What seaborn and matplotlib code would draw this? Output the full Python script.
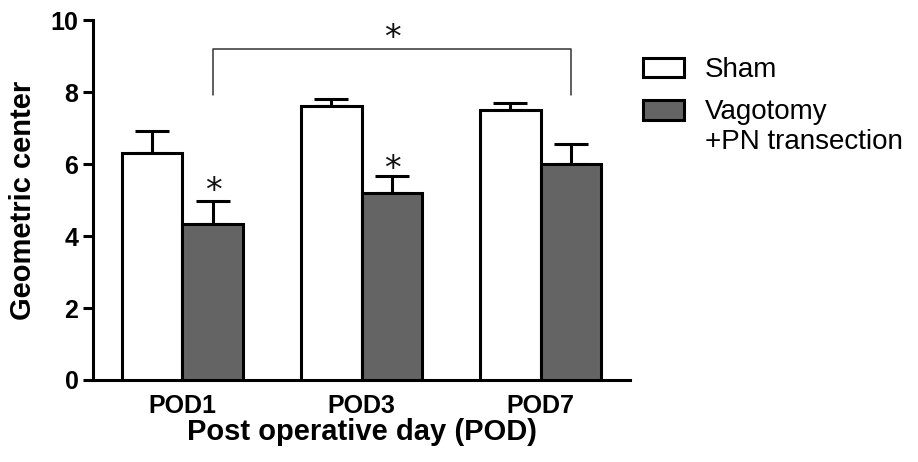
import matplotlib
matplotlib.use("Agg")
import matplotlib.pyplot as plt
from matplotlib.patches import Rectangle
from matplotlib.legend_handler import HandlerPatch
import seaborn as sns
import pandas as pd
import numpy as np

# ---- data ----
days = ["POD1", "POD3", "POD7"]
groups = ["Sham", "Vagotomy\n+PN transection"]
sham_mean = [6.30, 7.62, 7.50]
sham_sem = [0.62, 0.20, 0.19]
vago_mean = [4.34, 5.19, 5.99]
vago_sem = [0.63, 0.49, 0.57]
bracket_low = 7.92
bracket_high = 9.2

df = pd.DataFrame({
    "day": days * 2,
    "group": [groups[0]] * 3 + [groups[1]] * 3,
    "value": sham_mean + vago_mean,
    "sem": sham_sem + vago_sem,
})

sns.set_style("ticks")
plt.rcParams["font.family"] = ["Liberation Sans", "DejaVu Sans"]
plt.rcParams["text.color"] = "black"
plt.rcParams["axes.labelcolor"] = "black"

fig = plt.figure(figsize=(9.18, 4.62), dpi=100)
ax = fig.add_axes([0.1013, 0.1775, 0.585, 0.779])

lw = 2.2
fill = "#646464"
sns.barplot(data=df, x="day", y="value", hue="group", order=days, hue_order=groups,
            palette={groups[0]: "white", groups[1]: fill},
            edgecolor="black", linewidth=lw, width=0.68, gap=0,
            errorbar=None, ax=ax, zorder=3, saturation=1)

# error bars (upper SEM only) placed at the centres of seaborn's bars
bars = [p for p in ax.patches if p.get_height() > 0]
bars = sorted(bars, key=lambda p: p.get_x())
centers = np.array([p.get_x() + p.get_width() / 2 for p in bars])
heights = np.array([p.get_height() for p in bars])
sem_lookup = {}
for _, r in df.iterrows():
    sem_lookup[round(r["value"], 4)] = r["sem"]
sems = np.array([sem_lookup[round(h, 4)] for h in heights])
ax.errorbar(centers, heights, yerr=[np.zeros_like(sems), sems], fmt="none",
            ecolor="black", elinewidth=lw, capsize=12, capthick=lw, zorder=2)

# significance markers
vago_idx = [i for i, h in enumerate(heights) if round(h, 4) in [round(v, 4) for v in vago_mean]]
vc = centers[vago_idx]
vt = heights[vago_idx] + sems[vago_idx]
star_font = dict(family="DejaVu Sans", fontsize=24, ha="center", va="baseline", color="#111111")
ax.text(vc[0], vt[0], "*", **star_font)
ax.text(vc[1], vt[1] - 0.1, "*", **star_font)
ax.plot([vc[0], vc[0], vc[2], vc[2]], [bracket_low, bracket_high, bracket_high, bracket_low],
        color="#333333", lw=1.1, clip_on=False, zorder=4)
ax.text((vc[0] + vc[2]) / 2, bracket_high + 0.02, "*", **star_font)

ax.set_xlim(-0.5, 2.5)
ax.set_ylim(0, 10)
ax.set_yticks([0, 2, 4, 6, 8, 10])
sns.despine(ax=ax)
for s in ["left", "bottom"]:
    ax.spines[s].set_linewidth(lw)
    ax.spines[s].set_color("black")
ax.tick_params(axis="y", length=7.5, width=lw, pad=3, labelsize=18, colors="black")
ax.tick_params(axis="x", length=0, pad=10, labelsize=18, colors="black")
for lab in ax.get_xticklabels() + ax.get_yticklabels():
    lab.set_fontweight("bold")
ax.set_xlabel("Post operative day (POD)", fontsize=21, fontweight="bold", labelpad=0)
ax.set_ylabel("Geometric center", fontsize=21, fontweight="bold", labelpad=10)

LEG_FS = 20


def top_line_patch(legend, orig_handle, xdescent, ydescent, width, height, fontsize):
    # align the key with the first line of a (possibly) multi-line label
    nlines = orig_handle.get_label().count("\n")
    shift = nlines * 0.62 * fontsize
    return Rectangle((-xdescent, -ydescent + shift), width, height)


leg = ax.legend(loc="upper left", bbox_to_anchor=(1.024, 0.897), frameon=False,
                fontsize=LEG_FS, handlelength=1.48, handleheight=0.72, handletextpad=0.76,
                labelspacing=0.56, borderaxespad=0, borderpad=0,
                handler_map={Rectangle: HandlerPatch(patch_func=top_line_patch)})
for h in leg.legend_handles:
    h.set_edgecolor("black")
    h.set_linewidth(lw)

fig.savefig("out.png", dpi=100)
